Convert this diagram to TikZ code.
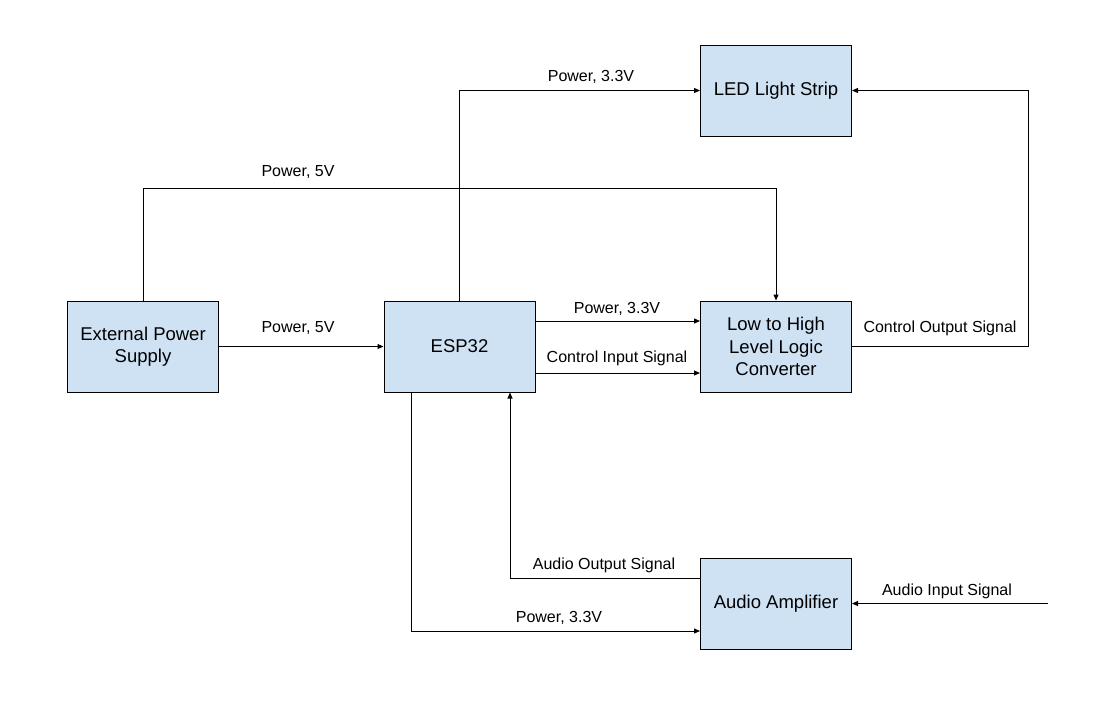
\documentclass[tikz,border=0pt]{standalone}
\usepackage{fontspec}
\setmainfont{Liberation Sans}
\usetikzlibrary{arrows.meta}
\definecolor{boxfill}{HTML}{CFE2F3}
\begin{document}
\begin{tikzpicture}[x=1pt,y=-1pt,
  blk/.style={draw=black,line width=1pt,fill=boxfill,minimum width=151pt,minimum height=91pt,inner sep=2pt,align=center,font=\fontsize{18.5}{22.5}\selectfont},
  arr/.style={draw=black,line width=1pt,-{Triangle[length=6pt,width=5pt]}},
  lbl/.style={font=\fontsize{16}{18}\selectfont,inner sep=0pt}]
\useasboundingbox (0,0) rectangle (1100,710);
\fill[white] (0,0) rectangle (1100,710);
\node[blk] (eps) at (143,346.5) {External Power\\Supply};
\node[blk] (esp) at (459.5,346.5) {ESP32};
\node[blk] (conv) at (776,346.5) {Low to High\\Level Logic\\Converter};
\node[blk] (led) at (776,90.5) {LED Light Strip};
\node[blk] (amp) at (776,603.5) {Audio Amplifier};
\coordinate (ain) at (1048,603.5);
% connectors
\draw[arr] (eps.east) -- (esp.west);
\draw[arr] (eps.north) -- ++(0,-112) -| (conv.north);
\draw[arr] (esp.north) |- (led.west);
\draw[arr] ([yshift=25.5pt]esp.east) -- ([yshift=25.5pt]conv.west);
\draw[arr] ([yshift=-26.5pt]esp.east) -- ([yshift=-26.5pt]conv.west);
\draw[arr] (conv.east) -- ++(176,0) |- (led.east);
\draw[arr] ([yshift=25.5pt]amp.west) -| ([xshift=50.5pt]esp.south);
\draw[arr] ([xshift=-48.5pt]esp.south) |- ([yshift=-27.5pt]amp.west);
\draw[arr] (ain) -- (amp.east);
% labels
\node[lbl] (l1) at (298,328) {Power, 5V};
\node[lbl] (l2) at (298,172) {Power, 5V};
\node[lbl] (l3) at (591,77) {Power, 3.3V};
\node[lbl] (l4) at (617,309) {Power, 3.3V};
\node[lbl] (l5) at (617,358) {Control Input Signal};
\node[lbl] (l6) at (940,328) {Control Output Signal};
\node[lbl] (l7) at (604,565) {Audio Output Signal};
\node[lbl] (l8) at (559,618) {Power, 3.3V};
\node[lbl] (l9) at (947,591) {Audio Input Signal};
\end{tikzpicture}
\end{document}
